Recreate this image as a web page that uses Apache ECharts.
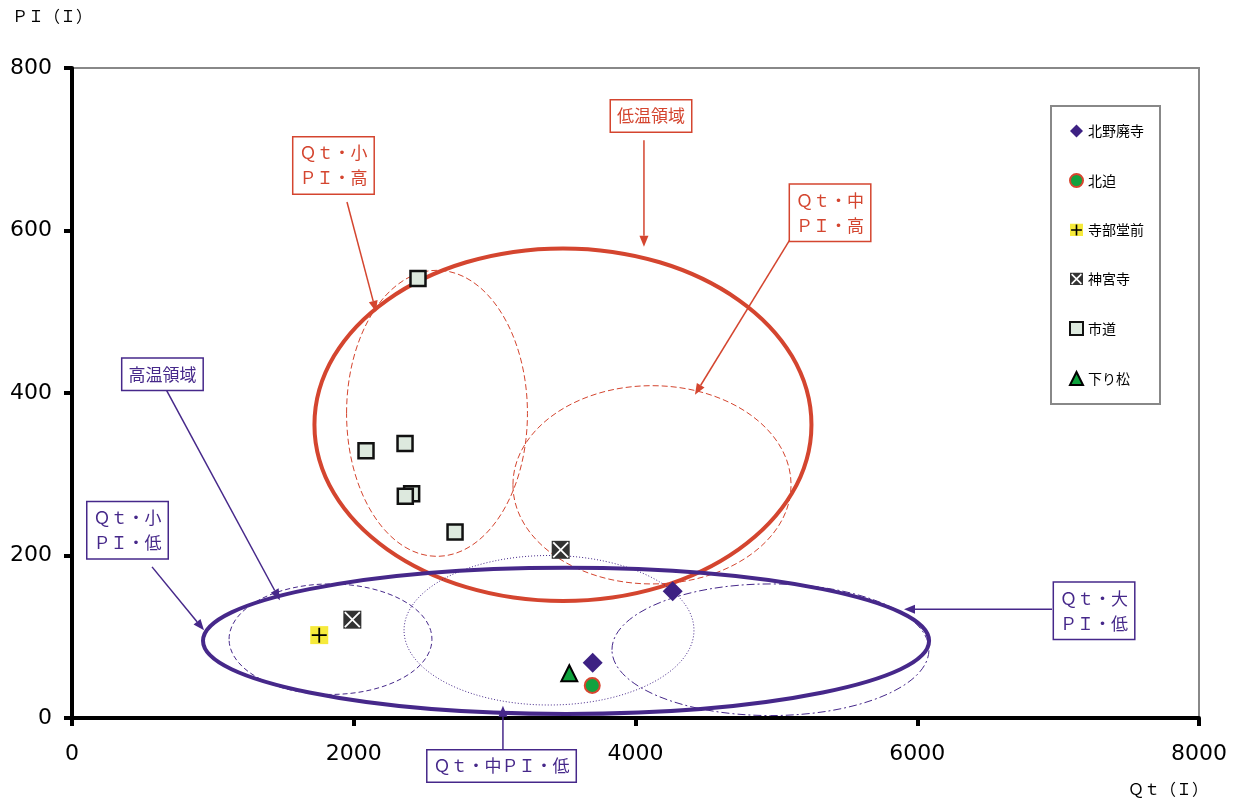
<!DOCTYPE html>
<html><head><meta charset="utf-8">
<script src="https://cdn.jsdelivr.net/npm/echarts@6/dist/echarts.min.js"></script>
<style>html,body{margin:0;padding:0;background:#fff}#c{width:1241px;height:805px}</style>
</head><body><div id="c"></div>
<script>
// ---- data ----
const seriesNames = ['北野廃寺', '北迫', '寺部堂前', '神宮寺', '市道', '下り松'];
const kitanoHaiji = [[3696, 68], [4264, 156]];
const kitasako = [[3693, 40]];
const terabeDomae = [[1755, 102]];
const jinguji = [[1990, 121], [3469, 207]];
const shidou = [[2456, 541], [2087, 329], [2364, 338], [2411, 276], [2366, 273], [2719, 229]];
const sagarimatsu = [[3530, 55]];

const xAxisRange = [0, 8000, 2000];
const yAxisRange = [0, 800, 200];
const xAxisTitle = 'Ｑｔ（Ｉ）';
const yAxisTitle = 'ＰＩ（Ｉ）';

// region ellipses: [centerQt, centerPI, radiusQt, radiusPI]
const regionNames = ['低温領域', 'Qt小PI高', 'Qt中PI高', '高温領域', 'Qt小PI低', 'Qt中PI低', 'Qt大PI低'];
const regionEllipses = [
  [3485, 361, 1764, 217],
  [2591, 375, 642, 176],
  [4117, 287, 987, 122],
  [3507, 95, 2577, 90],
  [1835, 97, 720, 68],
  [3386, 108, 1029, 92],
  [4958, 84, 1125, 81]
];
// annotations: text, box centre (data coords), arrow [fromQt, fromPI, toQt, toPI]
const annotationTexts = ['低温領域', 'Ｑｔ・小\nＰＩ・高', 'Ｑｔ・中\nＰＩ・高', '高温領域', 'Ｑｔ・小\nＰＩ・低', 'Ｑｔ・中ＰＩ・低', 'Ｑｔ・大\nＰＩ・低'];
const annotationBoxes = [[4110, 741], [1856, 680], [5381, 622], [642, 423], [394, 231], [3049, -59], [7255, 132]];
const annotationArrows = [
  [4060, 711, 4060, 580],
  [1952, 635, 2158, 500],
  [5104, 591, 4422, 398],
  [653, 409, 1476, 145],
  [568, 186, 937, 108],
  [3059, -42, 3059, 15],
  [6957, 134, 5906, 134]
];

// ---- styles ----
const RED = '#d4452f', PURPLE = '#46288a';
const ellipseStyles = [
  {color: RED, width: 4, dash: null},
  {color: RED, width: 1, dash: [6, 3]},
  {color: RED, width: 1, dash: [6, 3]},
  {color: PURPLE, width: 4, dash: null},
  {color: PURPLE, width: 1, dash: [5, 3]},
  {color: PURPLE, width: 1, dash: [1, 2]},
  {color: PURPLE, width: 1, dash: [8, 3, 2, 3]}
];
const annoColors = [RED, RED, RED, PURPLE, PURPLE, PURPLE, PURPLE];
const JP = '"Noto Sans CJK JP"';

function svgIcon(s) { return 'image://data:image/svg+xml;charset=utf-8,' + encodeURIComponent(s); }
const plusIcon = svgIcon("<svg xmlns='http://www.w3.org/2000/svg' width='24' height='24'><rect width='24' height='24' fill='#f6ea3b'/><path d='M12 2V22M2 12H22' stroke='#000' stroke-width='3'/></svg>");
const xIcon = svgIcon("<svg xmlns='http://www.w3.org/2000/svg' width='24' height='24'><rect width='24' height='24' fill='#333'/><path d='M3 3L21 21M21 3L3 21' stroke='#fff' stroke-width='3'/></svg>");

function renderEllipse(params, api) {
  const e = regionEllipses[params.dataIndex];
  const c = api.coord([e[0], e[1]]);
  const s = api.size([e[2], e[3]]);
  const st = ellipseStyles[params.dataIndex];
  return {type: 'ellipse', silent: true,
    shape: {cx: c[0], cy: c[1], rx: s[0], ry: s[1]},
    style: {fill: null, stroke: st.color, lineWidth: st.width, lineDash: st.dash}};
}

function renderAnno(params, api) {
  const i = params.dataIndex;
  const a = annotationArrows[i];
  const p1 = api.coord([a[0], a[1]]), p2 = api.coord([a[2], a[3]]);
  const b = api.coord(annotationBoxes[i]);
  const col = annoColors[i];
  const dx = p2[0] - p1[0], dy = p2[1] - p1[1], L = Math.hypot(dx, dy);
  const ux = dx / L, uy = dy / L, hl = 11, hw = 4.5;
  const bx = p2[0] - ux * hl, by = p2[1] - uy * hl;
  return {type: 'group', silent: true, children: [
    {type: 'line', shape: {x1: p1[0], y1: p1[1], x2: bx, y2: by}, style: {stroke: col, lineWidth: 1.5}},
    {type: 'polygon', shape: {points: [[p2[0], p2[1]], [bx - uy * hw, by + ux * hw], [bx + uy * hw, by - ux * hw]]}, style: {fill: col}},
    {type: 'text', x: b[0], y: b[1], z2: 10, style: {text: annotationTexts[i], fill: col, font: '17px ' + JP,
      align: 'center', verticalAlign: 'middle', backgroundColor: '#fff', borderColor: col, borderWidth: 1.5,
      padding: [3, 6, 3, 6], lineHeight: 25}}
  ]};
}

const plain = v => String(v);
const chart = echarts.init(document.getElementById('c'));
chart.setOption({
  animation: false,
  backgroundColor: '#fff',
  grid: {left: 72, top: 68, right: 42, bottom: 87, show: true, borderColor: '#888', borderWidth: 2, backgroundColor: 'transparent'},
  xAxis: {type: 'value', min: xAxisRange[0], max: xAxisRange[1], interval: xAxisRange[2],
    axisLine: {onZero: false, lineStyle: {color: '#000', width: 4}},
    axisTick: {show: true, inside: false, length: 8, lineStyle: {color: '#000', width: 4}},
    axisLabel: {fontSize: 22, fontFamily: 'DejaVu Sans', color: '#000', margin: 25, formatter: plain},
    splitLine: {show: false}},
  yAxis: {type: 'value', min: yAxisRange[0], max: yAxisRange[1], interval: yAxisRange[2],
    axisLine: {onZero: false, lineStyle: {color: '#000', width: 4}},
    axisTick: {show: true, inside: false, length: 8, lineStyle: {color: '#000', width: 4}},
    axisLabel: {fontSize: 22, fontFamily: 'DejaVu Sans', color: '#000', margin: 20, formatter: plain},
    splitLine: {show: false}},
  legend: {orient: 'vertical', left: 1051, top: 106, padding: [18, 16, 18, 18], itemGap: 35, itemWidth: 13, itemHeight: 13,
    borderColor: '#888', borderWidth: 2, backgroundColor: '#fff',
    textStyle: {fontSize: 14, fontFamily: JP, color: '#000'},
    data: [
      {name: seriesNames[0]}, {name: seriesNames[1]}, {name: seriesNames[2], icon: plusIcon},
      {name: seriesNames[3], icon: xIcon}, {name: seriesNames[4]}, {name: seriesNames[5]}
    ]},
  graphic: [
    {type: 'text', left: 12, top: 8, style: {text: yAxisTitle, font: '16px ' + JP, fill: '#000'}},
    {type: 'text', left: 1128, top: 781, style: {text: xAxisTitle, font: '16px ' + JP, fill: '#000'}}
  ],
  series: [
    {type: 'custom', name: 'regions', coordinateSystem: 'cartesian2d', clip: false, silent: true, z: 1,
      data: regionEllipses.map(e => [e[0], e[1]]), renderItem: renderEllipse},
    {type: 'custom', name: 'annotations', coordinateSystem: 'cartesian2d', clip: false, silent: true, z: 5,
      data: annotationBoxes, renderItem: renderAnno},
    {type: 'scatter', name: seriesNames[0], data: kitanoHaiji, symbol: 'diamond', symbolSize: 20, z: 3,
      itemStyle: {color: '#3d2183', opacity: 1}},
    {type: 'scatter', name: seriesNames[1], data: kitasako, symbol: 'circle', symbolSize: 15, z: 3,
      itemStyle: {color: '#13a23f', borderColor: '#d8452f', borderWidth: 2, opacity: 1}},
    {type: 'scatter', name: seriesNames[2], data: terabeDomae, symbol: 'rect', symbolSize: 18, z: 3,
      itemStyle: {color: '#f6ea3b', opacity: 1}},
    {type: 'scatter', name: seriesNames[2] + '_mark', data: terabeDomae, symbol: 'path://M5,0L5,10M0,5L10,5', symbolSize: 15, z: 4,
      itemStyle: {color: 'rgba(0,0,0,0)', borderColor: '#000', borderWidth: 1.8, opacity: 1}},
    {type: 'scatter', name: seriesNames[3], data: jinguji, symbol: 'rect', symbolSize: 18, z: 3,
      itemStyle: {color: '#333', opacity: 1}},
    {type: 'scatter', name: seriesNames[3] + '_mark', data: jinguji, symbol: 'path://M0,0L10,10M10,0L0,10', symbolSize: 15, z: 4,
      itemStyle: {color: 'rgba(0,0,0,0)', borderColor: '#fff', borderWidth: 1.8, opacity: 1}},
    {type: 'scatter', name: seriesNames[4], data: shidou, symbol: 'rect', symbolSize: 15, z: 3,
      itemStyle: {color: '#dde9de', borderColor: '#111', borderWidth: 2.5, opacity: 1}},
    {type: 'scatter', name: seriesNames[5], data: sagarimatsu, symbol: 'triangle', symbolSize: 16, z: 3,
      itemStyle: {color: '#0ea23c', borderColor: '#000', borderWidth: 2, opacity: 1}}
  ]
});
</script></body></html>
